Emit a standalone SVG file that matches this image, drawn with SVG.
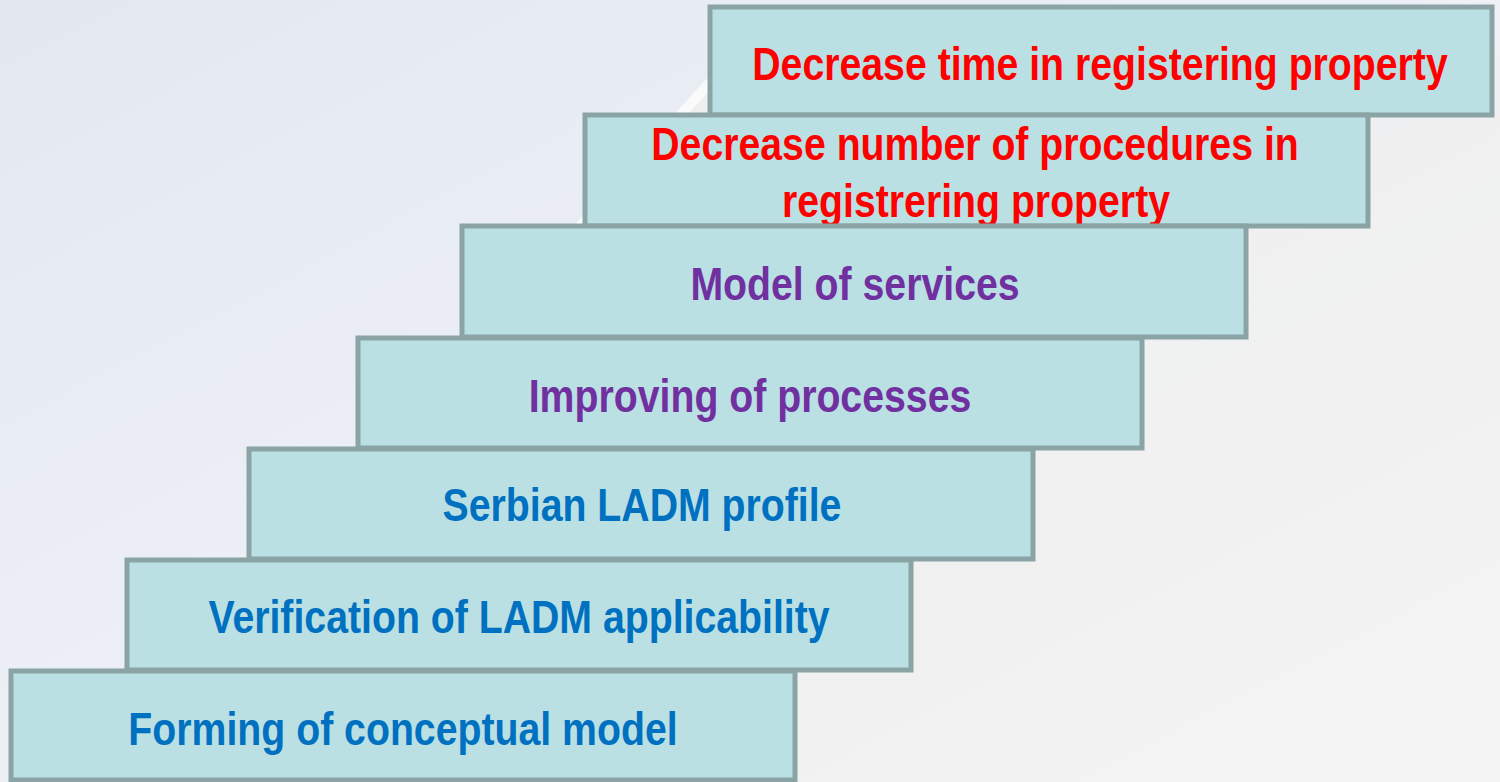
<svg xmlns="http://www.w3.org/2000/svg" width="1500" height="782" viewBox="0 0 1500 782">
  <style>
    .box { fill: #BAE0E3; stroke: #8AA4A6; stroke-width: 5; }
    .t { font-family: "Liberation Sans", Arial, sans-serif; font-weight: bold; font-size: 47px; text-anchor: middle; }
    .red { fill: #FF0000; }
    .purple { fill: #7030A0; }
    .blue { fill: #0070C0; }
  </style>
  <defs>
    <linearGradient id="bg" x1="0" y1="0" x2="1" y2="1">
      <stop offset="0" stop-color="#E3E8F0"/>
      <stop offset="0.45" stop-color="#ECEFF5"/>
      <stop offset="0.75" stop-color="#F6F6F7"/>
      <stop offset="1" stop-color="#FFFFFF"/>
    </linearGradient>
    <linearGradient id="streak" x1="0" y1="1" x2="1" y2="0">
      <stop offset="0" stop-color="#FFFFFF" stop-opacity="0.3"/>
      <stop offset="0.5" stop-color="#FFFFFF" stop-opacity="1"/>
      <stop offset="1" stop-color="#FFFFFF" stop-opacity="0.7"/>
    </linearGradient>
  </defs>
  <rect x="0" y="0" width="1500" height="782" fill="url(#bg)"/>
  <path d="M120 782 Q 380 440 740 50 L 1500 50 L 1500 782 Z" fill="#EFEFEF" opacity="0.7"/>
  <path d="M120 782 Q 380 440 740 50" fill="none" stroke="url(#streak)" stroke-width="10"/>

  <g id="step1">
    <rect class="box" x="710" y="7" width="782" height="108"/>
    <text class="t red" transform="translate(1100 80) scale(0.835 1)">Decrease time in registering property</text>
  </g>
  <g id="step2">
    <rect class="box" x="585" y="115" width="783" height="111"/>
    <text class="t red" transform="translate(975 160) scale(0.835 1)">Decrease number of procedures in</text>
    <text class="t red" transform="translate(976 217) scale(0.835 1)">registrering property</text>
  </g>
  <g id="step3">
    <rect class="box" x="462" y="226" width="784" height="111"/>
    <text class="t purple" transform="translate(855 300) scale(0.835 1)">Model of services</text>
  </g>
  <g id="step4">
    <rect class="box" x="358" y="338" width="784" height="110"/>
    <text class="t purple" transform="translate(750 412) scale(0.835 1)">Improving of processes</text>
  </g>
  <g id="step5">
    <rect class="box" x="249" y="449" width="784" height="110"/>
    <text class="t blue" transform="translate(642 521) scale(0.835 1)">Serbian LADM profile</text>
  </g>
  <g id="step6">
    <rect class="box" x="127" y="560" width="784" height="110"/>
    <text class="t blue" transform="translate(519 633) scale(0.835 1)">Verification of LADM applicability</text>
  </g>
  <g id="step7">
    <rect class="box" x="11" y="671" width="784" height="109"/>
    <text class="t blue" transform="translate(403 745) scale(0.835 1)">Forming of conceptual model</text>
  </g>
  <g id="connectors"></g>
</svg>
